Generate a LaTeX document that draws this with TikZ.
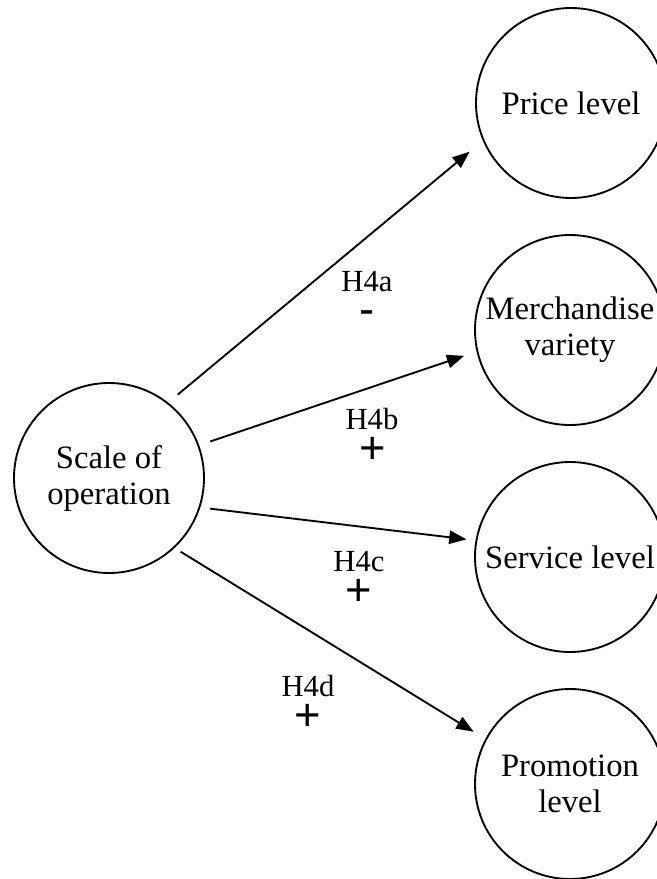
\documentclass[tikz,border=0pt]{standalone}
\usepackage{fontspec}
\setmainfont{Liberation Serif}
\newfontfamily\signfont{Liberation Sans}
\usetikzlibrary{arrows.meta}

\begin{document}
\begin{tikzpicture}[x=0.75pt,y=-0.75pt,
  concept/.style={circle,draw,line width=1.4pt,minimum size=142.5pt,
    inner sep=0pt,outer sep=0pt,align=center,
    font=\fontsize{24.5}{27}\selectfont},
  link/.style={line width=1.4pt,-{Triangle[length=13pt,width=10pt]}},
  hyp/.style={font=\fontsize{23}{24}\selectfont,inner sep=0pt},
  sign/.style={font=\signfont\fontsize{34}{34}\selectfont,inner sep=0pt}]
\useasboundingbox (0,0) rectangle (657,879);

% constructs
\node[concept] (scale) at (109,478) {Scale of\\operation};
\node[concept] (price) at (571,103) {Price level};
\node[concept] (merch) at (570,330) {Merchandise\\variety};
\node[concept] (serv)  at (570,557) {Service level};
\node[concept] (promo) at (570,784) {Promotion\\level};

% hypothesised effects
\draw[link,shorten <=10pt,shorten >=13.5pt] (scale.52)  -- (price.203);
\draw[link,shorten <=9.5pt,shorten >=10.5pt] (scale.20) -- (merch.193);
\draw[link,shorten <=8pt,shorten >=7.5pt]   (scale.-18) -- (serv.170);
\draw[link,shorten <=6pt,shorten >=11pt]    (scale.-47) -- (promo.152);

% hypothesis labels and signs
\node[hyp]  (h4a) at (367,282) {H4a};
\node[sign] (s4a) at (367,318) {-};
\node[hyp]  (h4b) at (372,419) {H4b};
\node[sign] (s4b) at (373,450) {+};
\node[hyp]  (h4c) at (359,562) {H4c};
\node[sign] (s4c) at (359,592) {+};
\node[hyp]  (h4d) at (308,686) {H4d};
\node[sign] (s4d) at (308,717) {+};
\end{tikzpicture}
\end{document}
